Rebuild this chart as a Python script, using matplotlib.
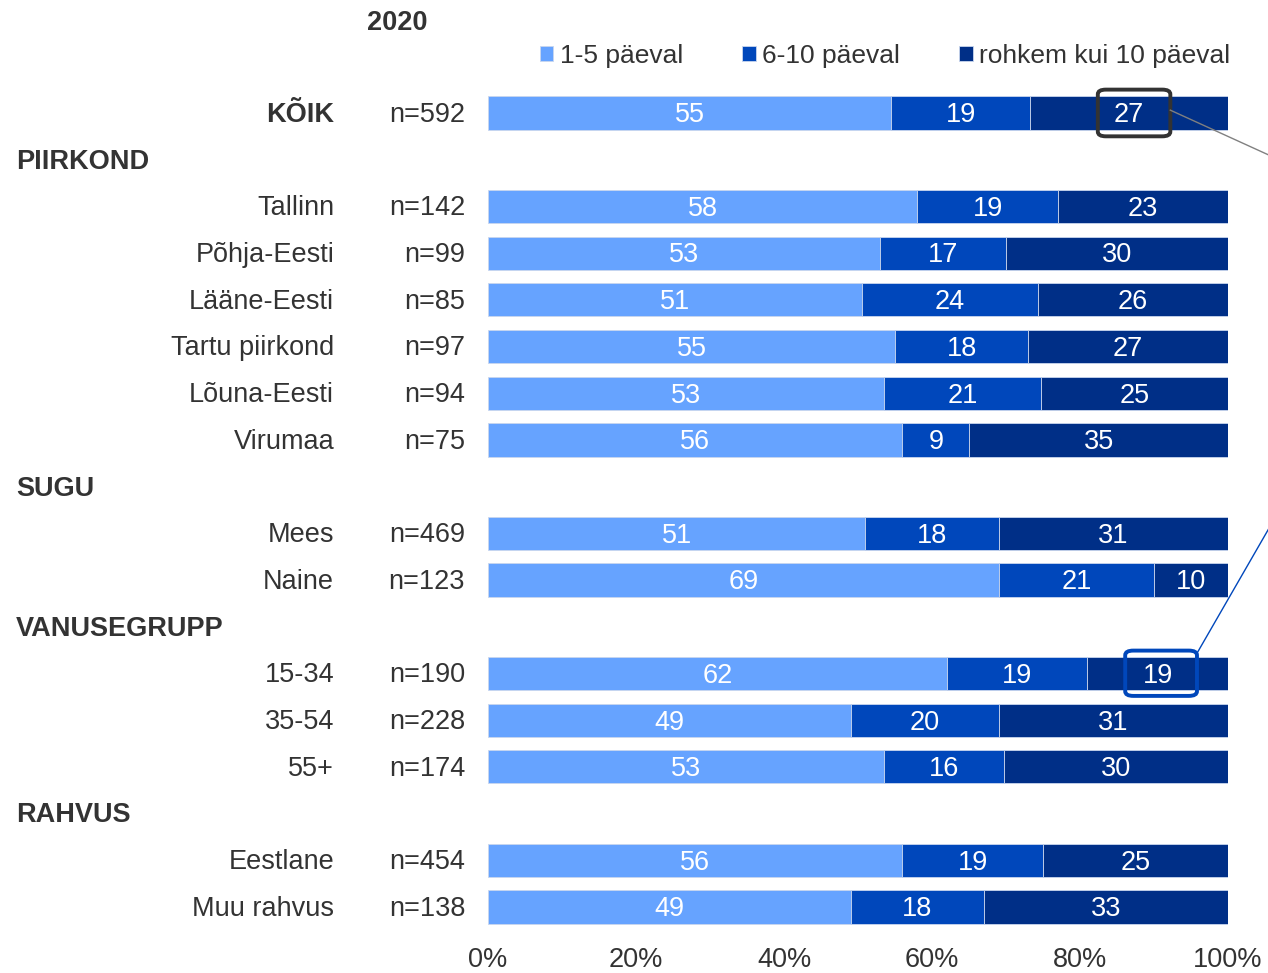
import matplotlib
matplotlib.use("Agg")
import matplotlib.pyplot as plt
import matplotlib.transforms as mtrans
from matplotlib.patches import FancyBboxPatch
import numpy as np

plt.rcParams["font.family"] = ["Liberation Sans", "DejaVu Sans"]

# Rows top to bottom; section headers have no bars
row_labels = ["KÕIK", "PIIRKOND", "Tallinn", "Põhja-Eesti", "Lääne-Eesti", "Tartu piirkond",
              "Lõuna-Eesti", "Virumaa", "SUGU", "Mees", "Naine", "VANUSEGRUPP",
              "15-34", "35-54", "55+", "RAHVUS", "Eestlane", "Muu rahvus"]
is_header = [False, True, False, False, False, False, False, False, True, False, False, True,
             False, False, False, True, False, False]
n_labels = ["n=592", "", "n=142", "n=99", "n=85", "n=97", "n=94", "n=75", "", "n=469", "n=123", "",
            "n=190", "n=228", "n=174", "", "n=454", "n=138"]
days_1_5 = [55, 0, 58, 53, 51, 55, 53, 56, 0, 51, 69, 0, 62, 49, 53, 0, 56, 49]
days_6_10 = [19, 0, 19, 17, 24, 18, 21, 9, 0, 18, 21, 0, 19, 20, 16, 0, 19, 18]
days_10_plus = [27, 0, 23, 30, 26, 27, 25, 35, 0, 31, 10, 0, 19, 31, 30, 0, 25, 33]
series_names = ["1-5 päeval", "6-10 päeval", "rohkem kui 10 päeval"]
colors = ["#66A3FF", "#0047BB", "#002F87"]
x_ticks = [0, 20, 40, 60, 80, 100]

FS = 19.5
text_col = "#333333"

fig = plt.figure(figsize=(12.68, 9.73), dpi=100)
ax = fig.add_axes([0.3849, 0.0438, 0.5836, 0.8641])

y = np.arange(len(row_labels))
mask = ~np.array(is_header)
vals = np.array([days_1_5, days_6_10, days_10_plus], dtype=float)
totals = vals.sum(axis=0)
totals[totals == 0] = 1
pct = vals / totals * 100

left = np.zeros(len(row_labels))
for k in range(3):
    ax.barh(y[mask], pct[k][mask], left=left[mask], height=0.71, color=colors[k],
            edgecolor="#C9D6EE", linewidth=0.6, label=series_names[k])
    for i in y[mask]:
        ax.text(left[i] + pct[k][i] / 2, i + 0.05, str(int(vals[k][i])), ha="center",
                va="center", color="white", fontsize=FS)
    left = left + pct[k]

ax.set_xlim(0, 100)
ax.set_ylim(len(row_labels) - 0.5, -0.5)
ax.set_yticks([])
ax.set_xticks(x_ticks)
ax.set_xticklabels([f"{t}%" for t in x_ticks], fontsize=FS, color=text_col)
ax.tick_params(axis="x", length=0, pad=12)
for s in ax.spines.values():
    s.set_visible(False)

# row labels, n labels and section headers
ytr = ax.get_yaxis_transform()
hdr_tr = mtrans.blended_transform_factory(fig.transFigure, ax.transData)
for i, lab in enumerate(row_labels):
    if is_header[i]:
        fig.text(16 / 1268, i + 0.04, lab, transform=hdr_tr, fontsize=FS, fontweight="bold",
                 color=text_col, ha="left", va="center")
    else:
        weight = "bold" if lab == "KÕIK" else "normal"
        ax.text(-0.208, i + 0.04, lab, transform=ytr, ha="right", va="center",
                fontsize=FS, fontweight=weight, color=text_col)
        ax.text(-0.031, i + 0.04, n_labels[i], transform=ytr, ha="right",
                va="center", fontsize=FS, color=text_col)

fig.text(367 / 1268, 1 - 23 / 973, "2020", fontsize=FS, fontweight="bold", color=text_col,
         ha="left", va="center")

ax.legend(loc="center right", bbox_to_anchor=(1.003, 1.040), ncol=3, frameon=False,
          fontsize=19, handlelength=0.5, handleheight=0.5, handletextpad=0.25,
          columnspacing=2.25, borderaxespad=0, borderpad=0, labelcolor=text_col)

# callout boxes and connector lines
i_all = row_labels.index("KÕIK")
i_young = row_labels.index("15-34")
box_style = "round,pad=0,rounding_size=1.1"
ax.add_patch(FancyBboxPatch((82.4, i_all - 0.5), 9.8, 1.0, boxstyle=box_style,
                            fill=False, edgecolor="#333333", linewidth=2.8, clip_on=False,
                            mutation_aspect=0.09))
ax.add_patch(FancyBboxPatch((86.1, i_young - 0.49), 9.7, 0.97, boxstyle=box_style,
                            fill=False, edgecolor="#0047BB", linewidth=2.8, clip_on=False,
                            mutation_aspect=0.09))
ax.plot([92.2, 105.5], [i_all - 0.06, i_all + 0.9], color="#808080", linewidth=1, clip_on=False)
ax.plot([95.9, 105.5], [i_young - 0.46, i_young - 3.1], color="#0047BB", linewidth=1,
        clip_on=False)

fig.savefig("out.png", dpi=100)
